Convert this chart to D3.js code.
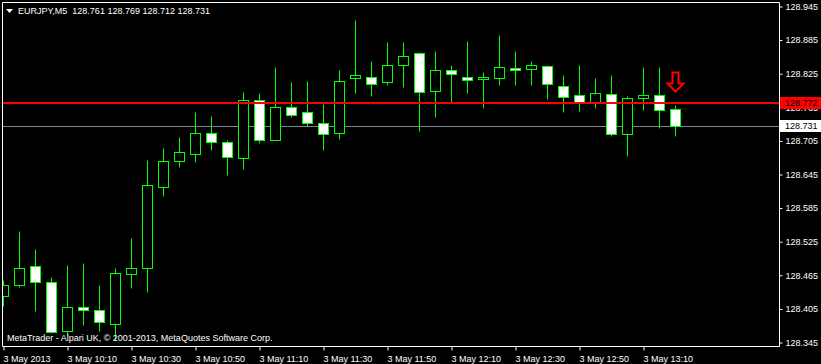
<html>
<head>
    <script src="https://d3js.org/d3.v7.min.js"></script>
    <style>
        body { margin: 0; background: #000; }
        svg text { font-family: "Liberation Sans", Arial, sans-serif; font-size: 9px; fill: #fff; }
        .axis .domain { display: none; }
        .axis line { stroke: #fff; }
    </style>
</head>
<body>
<svg id="chart" width="821" height="364"></svg>
<script>
    // EURJPY M5, 3 May 2013, 09:50 .. 13:20
    const opens  = [128.428,128.446,128.480,128.452,128.364,128.407,128.402,128.378,128.466,128.478,
                    128.622,128.669,128.680,128.719,128.703,128.673,128.777,128.705,128.764,128.755,
                    128.736,128.718,128.816,128.819,128.809,128.839,128.861,128.794,128.830,128.819,
                    128.814,128.816,128.834,128.832,128.838,128.803,128.786,128.773,128.787,128.716,
                    128.780,128.786,128.761];
    const highs  = [128.456,128.543,128.511,128.461,128.483,128.486,128.447,128.477,128.531,128.670,
                    128.691,128.711,128.756,128.749,128.706,128.791,128.789,128.836,128.809,128.811,
                    128.770,128.831,128.920,128.847,128.881,128.881,128.862,128.865,128.840,128.883,
                    128.827,128.893,128.865,128.847,128.840,128.822,128.840,128.816,128.822,128.784,
                    128.836,128.836,128.769];
    const lows   = [128.410,128.444,128.401,128.361,128.356,128.375,128.365,128.349,128.442,128.435,
                    128.606,128.658,128.667,128.687,128.644,128.654,128.701,128.705,128.746,128.730,
                    128.688,128.707,128.790,128.785,128.804,128.801,128.721,128.747,128.774,128.790,
                    128.763,128.804,128.804,128.804,128.779,128.756,128.758,128.762,128.712,128.678,
                    128.760,128.728,128.712];
    const closes = [128.446,128.477,128.452,128.362,128.407,128.402,128.380,128.468,128.478,128.625,
                    128.669,128.684,128.718,128.703,128.675,128.778,128.705,128.764,128.750,128.736,
                    128.716,128.811,128.821,128.805,128.839,128.855,128.791,128.830,128.823,128.812,
                    128.818,128.836,128.830,128.839,128.805,128.782,128.773,128.789,128.716,128.780,
                    128.786,128.759,128.731];

    const timeTickIdx = [0, 4, 8, 12, 16, 20, 24, 28, 32, 36, 40];
    const timeTickLabels = ["3 May 2013", "3 May 10:10", "3 May 10:30", "3 May 10:50", "3 May 11:10",
                            "3 May 11:30", "3 May 11:50", "3 May 12:10", "3 May 12:30", "3 May 12:50", "3 May 13:10"];
    const priceTicks = [128.945, 128.885, 128.825, 128.765, 128.705, 128.645, 128.585, 128.525, 128.465, 128.405, 128.345];

    const levelLine = 128.772;
    const bidLine = 128.731;

    const svg = d3.select("svg#chart");
    const width = +svg.attr("width");
    const height = +svg.attr("height");
    const frame = { left: 2, top: 2, right: 779, bottom: 346 };

    const bars = opens.map((o, i) => ({ i: i, o: o, h: highs[i], l: lows[i], c: closes[i] }));

    const xScale = d3.scaleLinear().domain([0, bars.length - 1]).range([3, 3 + 16 * (bars.length - 1)]);
    const yScale = d3.scaleLinear().domain([128.345, 128.945]).range([342, 6]);
    const py = v => Math.round(yScale(v)) + 0.5;

    svg.append("rect").attr("width", width).attr("height", height).attr("fill", "#000");

    svg.append("clipPath").attr("id", "plotclip")
        .append("rect")
        .attr("x", frame.left + 1).attr("y", frame.top + 1)
        .attr("width", frame.right - frame.left - 1).attr("height", frame.bottom - frame.top - 1);

    const plot = svg.append("g").attr("clip-path", "url(#plotclip)");

    // bid line sits behind the candles
    plot.append("line")
        .attr("x1", frame.left).attr("x2", frame.right)
        .attr("y1", py(bidLine)).attr("y2", py(bidLine))
        .attr("stroke", "#778899").attr("stroke-width", 1);

    const candles = plot.selectAll("g.candle").data(bars).join("g").attr("class", "candle");

    candles.append("line")
        .attr("x1", d => xScale(d.i) + 0.5).attr("x2", d => xScale(d.i) + 0.5)
        .attr("y1", d => py(d.h)).attr("y2", d => py(d.l))
        .attr("stroke", "#00ff00").attr("stroke-width", 1);

    candles.append("rect")
        .attr("x", d => xScale(d.i) - 4.5)
        .attr("width", 10)
        .attr("y", d => py(Math.max(d.o, d.c)))
        .attr("height", d => Math.max(py(Math.min(d.o, d.c)) - py(Math.max(d.o, d.c)), 1))
        .attr("fill", d => d.c >= d.o ? "#000" : "#fff")
        .attr("stroke", "#00ff00").attr("stroke-width", 1);

    // horizontal line object
    plot.append("line")
        .attr("x1", frame.left).attr("x2", frame.right)
        .attr("y1", yScale(levelLine)).attr("y2", yScale(levelLine))
        .attr("stroke", "#ff0000").attr("stroke-width", 2);

    // sell arrow above the last bar
    const last = bars[bars.length - 1];
    const ax = xScale(last.i) + 0.5;
    const ay = py(last.h) - 14;
    plot.append("path")
        .attr("d", `M${ax - 3},${ay - 19} L${ax + 3},${ay - 19} L${ax + 3},${ay - 8} L${ax + 8},${ay - 8}
                    L${ax},${ay} L${ax - 8},${ay - 8} L${ax - 3},${ay - 8} Z`)
        .attr("fill", "#000").attr("stroke", "#ff0000").attr("stroke-width", 2);

    // watermark
    svg.append("text")
        .attr("x", 7).attr("y", 341)
        .attr("fill", "#e0e0e0")
        .text("MetaTrader - Alpari UK, \u00a9 2001-2013, MetaQuotes Software Corp.");

    // frame
    svg.append("path")
        .attr("d", `M${frame.left + 0.5},${frame.bottom + 0.5} L${frame.left + 0.5},${frame.top + 0.5}
                    L${frame.right + 0.5},${frame.top + 0.5} L${frame.right + 0.5},${frame.bottom + 0.5} Z`)
        .attr("fill", "none").attr("stroke", "#fff").attr("stroke-width", 1);

    // price axis
    const rightAxis = d3.axisRight(yScale)
        .tickValues(priceTicks)
        .tickFormat(d3.format(".3f"))
        .tickSize(3)
        .tickPadding(3);
    svg.append("g")
        .attr("class", "y axis")
        .attr("transform", `translate(${frame.right + 0.5},0.5)`)
        .call(rightAxis)
        .selectAll("text").attr("fill", "#fff");

    // time axis
    const bottomAxis = d3.axisBottom(xScale)
        .tickValues(timeTickIdx)
        .tickFormat((d, i) => timeTickLabels[i])
        .tickSize(4)
        .tickPadding(3);
    const xg = svg.append("g")
        .attr("class", "x axis")
        .attr("transform", `translate(0.5,${frame.bottom + 0.5})`)
        .call(bottomAxis);
    xg.selectAll("text").attr("text-anchor", "start").attr("x", -0.5).attr("dy", "0.9em").attr("fill", "#fff");

    // price labels on the axis
    const tags = [
        { v: levelLine, bg: "#ff0000", fg: "#000" },
        { v: bidLine, bg: "#fff", fg: "#000" }
    ];
    tags.forEach(t => {
        const cy = yScale(t.v);
        svg.append("rect")
            .attr("x", 780).attr("y", Math.round(cy) - 6)
            .attr("width", width - 780).attr("height", 12)
            .attr("fill", t.bg);
        svg.append("text")
            .attr("x", 785).attr("y", cy)
            .attr("dominant-baseline", "central")
            .style("fill", t.fg)
            .text(t.v.toFixed(3));
    });

    // title
    svg.append("path").attr("d", "M6,9 L13,9 L9.5,13 Z").attr("fill", "#fff");
    svg.append("text")
        .attr("x", 18).attr("y", 14)
        .attr("xml:space", "preserve")
        .text(`EURJPY,M5  ${last.o.toFixed(3)} ${last.h.toFixed(3)} ${last.l.toFixed(3)} ${last.c.toFixed(3)}`);
</script>
</body>
</html>
